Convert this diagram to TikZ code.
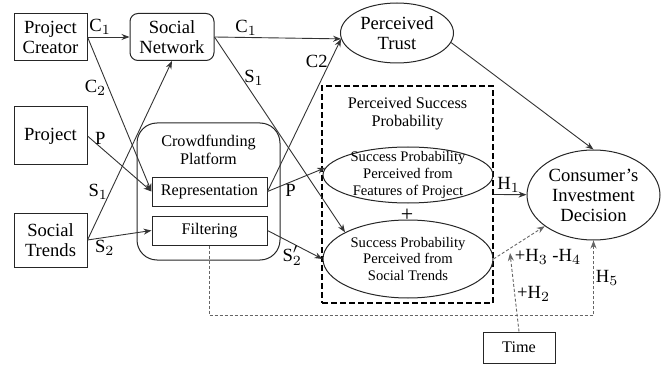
\documentclass[tikz,border=0pt]{standalone}
\usepackage{fontspec}
\setmainfont{Liberation Serif}
\usetikzlibrary{arrows.meta,positioning,shapes.geometric,calc}

\begin{document}
\begin{tikzpicture}[
  x=0.5pt, y=0.5pt,
  big/.style={font=\fontsize{9.3}{10}\selectfont},
  mid/.style={font=\fontsize{8.1}{9}\selectfont},
  sml/.style={font=\fontsize{7.3}{8.3}\selectfont},
  box/.style={draw=black!85, line width=0.5pt, align=center, inner sep=1pt},
  rbox/.style={box, rounded corners=4pt},
  ell/.style={ellipse, draw=black!85, line width=0.5pt, align=center,
              inner xsep=0pt, inner ysep=-3pt},
  group/.style={draw, line width=1pt, dash pattern=on 3pt off 1.5pt},
  gtitle/.style={mid, align=center},
  lbl/.style={big, inner sep=1pt},
  arr/.style={-{Stealth[length=4pt,width=3pt]}, draw=black!80, line width=0.45pt},
  hyp/.style={arr, draw=black!60, dash pattern=on 1.5pt off 1pt},
]
\useasboundingbox (0,0) rectangle (665,365);

% ---------- Antecedents ----------
\node[box, big, minimum width=36.5pt, minimum height=23.5pt] (pc) at (50.5,328) {Project\\Creator};
\node[box, big, minimum width=36.5pt, minimum height=29pt] (pr) at (50.5,229) {Project};
\node[box, big, minimum width=36.5pt, minimum height=27pt] (st) at (50.5,125) {Social\\Trends};
\node[rbox, big, minimum width=42pt, minimum height=23.5pt] (sn) at (172,328) {Social\\Network};

% ---------- Crowdfunding platform ----------
\node[box, rounded corners=10pt, minimum width=71.5pt, minimum height=68.5pt] (cf) at (208.5,173.5) {};
\node[gtitle, below=3pt of cf.north] (cft) {Crowdfunding\\Platform};
\node[box, mid, minimum width=57.5pt, minimum height=14.5pt] (rep) at (209.5,173.5) {Representation};
\node[box, mid, minimum width=57.5pt, minimum height=14.5pt, below=4.5pt of rep] (fil) {Filtering};

% ---------- Perceived trust / success probability ----------
\node[ell, big, minimum width=56.5pt, minimum height=30pt] (pt) at (397,332) {Perceived\\Trust};
\node[group, minimum width=85.5pt, minimum height=108.5pt] (psp) at (407.5,170.5) {};
\node[gtitle, below=2.5pt of psp.north] (pspt) {Perceived Success\\Probability};
\node[ell, sml, minimum width=85pt, minimum height=28pt] (sf) at (408,190)
  {Success Probability\\Perceived from\\Features of Project};
\node[big, font=\fontsize{11}{12}\selectfont, inner sep=0pt] (plus) at (407,150) {+};
\node[ell, sml, minimum width=85pt, minimum height=39pt] (ss) at (408,106)
  {Success Probability\\Perceived from\\Social Trends};

% ---------- Outcome ----------
\node[ell, big, minimum width=66.5pt, minimum height=45pt] (cid) at (593.5,170) {Consumer's\\Investment\\Decision};
\node[box, mid, minimum width=36pt, minimum height=15.5pt] (time) at (519,17.5) {Time};
\coordinate (h2tip) at (510,112);

% ---------- Paths ----------
\draw[arr] (pc.east) -- node[lbl, above, pos=0.3] {C$_1$} (sn.west);
\draw[arr] (sn.east) -- node[lbl, above, pos=0.25] {C$_1$} (pt.186);
\draw[arr] (pc.east) -- node[lbl, left, pos=0.33] {C$_2$} (rep.west);
\draw[arr] (pr.east) -- node[lbl, above, pos=0.2] {P} (rep.west);
\draw[arr] (st.east) -- node[lbl, left, pos=0.27] {S$_1$} (sn.south);
\draw[arr] (st.east) -- node[lbl, below, pos=0.27] {S$_2$} (fil.west);
\draw[arr] (sn.east) -- node[lbl, right, pos=0.21] {S$_1$} (ss.157);
\draw[arr] (rep.east) -- node[lbl, left, pos=0.85] {C2} (pt.186);
\draw[arr] (rep.east) -- node[lbl, below, pos=0.4] {P} (sf.175);
\draw[arr] (fil.east) -- node[lbl, below, pos=0.45] {S$'_2$} (ss.west);
\draw[arr] (psp.east) -- node[lbl, above, pos=0.45] {H$_1$} (cid);
\draw[arr] (pt.-10) -- (cid.north);

% ---------- Hypotheses (moderators) ----------
\draw[hyp] (ss.east) -- node[lbl, pos=0.37, anchor=north west] {+H$_3$ -H$_4$} (cid);
\draw[hyp] (time.north) -- node[lbl, right, pos=0.48] {+H$_2$} (h2tip);
\draw[hyp] (fil.south) -- ++(0,-70) -| node[lbl, right, pos=0.75] {H$_5$} (cid.south);

\end{tikzpicture}
\end{document}
